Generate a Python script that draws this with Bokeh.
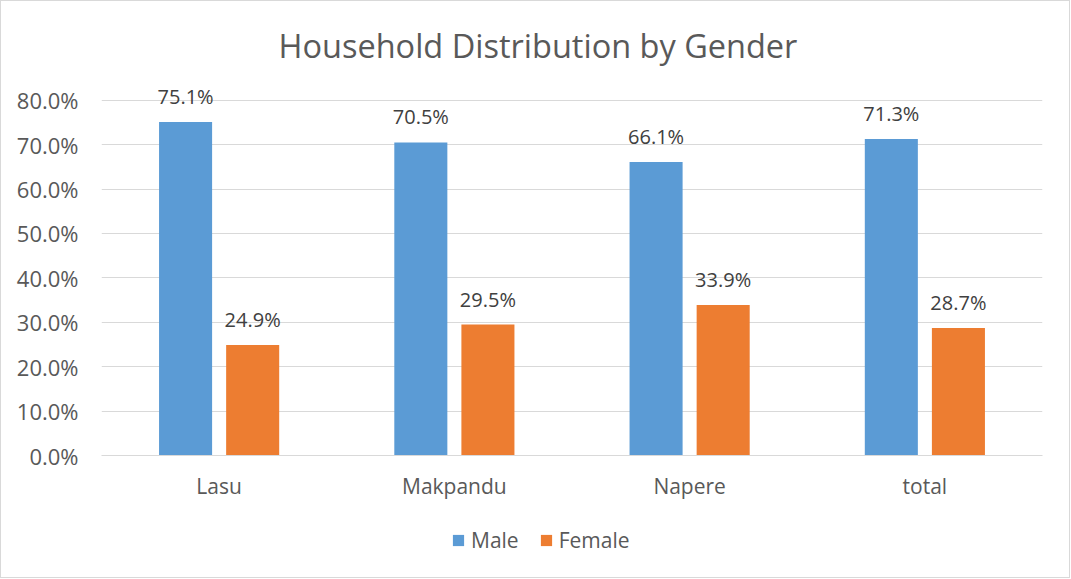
from bokeh.plotting import figure
from bokeh.layouts import column
from bokeh.models import ColumnDataSource, FixedTicker, LabelSet, Legend, LegendItem, FactorRange, Range1d
from bokeh.core.properties import value
from bokeh.transform import dodge
from bokeh.embed import file_html
from bokeh.resources import INLINE

categories = ["Lasu", "Makpandu", "Napere", "total"]
male = [75.1, 70.5, 66.1, 71.3]
female = [24.9, 29.5, 33.9, 28.7]
y_ticks = [0, 10, 20, 30, 40, 50, 60, 70, 80]

FONT = "Open Sans"
TXT = "#595959"
MALE_C = "#5B9BD5"
FEMALE_C = "#ED7D31"

src = ColumnDataSource(dict(
    cat=categories, male=male, female=female,
    male_lbl=[f"{v:.1f}%" for v in male],
    female_lbl=[f"{v:.1f}%" for v in female],
))

p = figure(width=1068, height=509, x_range=FactorRange(*categories, range_padding=0),
           y_range=(0, 84), output_backend="svg", toolbar_location=None,
           min_border_left=100, min_border_right=27, min_border_top=81, min_border_bottom=55)
p.outline_line_color = None
p.border_fill_color = "white"

p.title.text = "Household Distribution by Gender"
p.title.align = "left"
p.title.offset = 177
p.title.text_font = FONT
p.title.text_font_size = "32.5px"
p.title.text_font_style = "normal"
p.title.text_color = TXT
p.title.standoff = 29

w = 0.2255
off = 0.1426
p.vbar(x=dodge("cat", -off, range=p.x_range), top="male", width=w, source=src,
       fill_color=MALE_C, line_color=None)
p.vbar(x=dodge("cat", off, range=p.x_range), top="female", width=w, source=src,
       fill_color=FEMALE_C, line_color=None)

for col, lbl, d in (("male", "male_lbl", -off), ("female", "female_lbl", off)):
    ls = LabelSet(x=dodge("cat", d, range=p.x_range), y=col, text=lbl, source=src,
                  text_align="center", text_baseline="bottom", y_offset=12,
                  text_font=value(FONT), text_font_size=value("20px"), text_color="#404040")
    p.add_layout(ls)

p.yaxis.ticker = FixedTicker(ticks=y_ticks)
p.yaxis.major_label_overrides = {t: f"{t:.1f}%" for t in y_ticks}
p.yaxis.axis_line_color = None
p.yaxis.major_tick_line_color = None
p.yaxis.minor_tick_line_color = None
p.yaxis.major_label_standoff = 17
p.yaxis.major_label_text_font = FONT
p.yaxis.major_label_text_font_size = "22px"
p.yaxis.major_label_text_color = TXT

p.xaxis.axis_line_color = "#d9d9d9"
p.xaxis.major_tick_line_color = None
p.xaxis.minor_tick_line_color = None
p.xaxis.major_label_standoff = 10
p.xaxis.major_label_text_font = FONT
p.xaxis.major_label_text_font_size = "21px"
p.xaxis.major_label_text_color = TXT

p.xgrid.grid_line_color = None
p.ygrid.ticker = FixedTicker(ticks=y_ticks)
p.ygrid.grid_line_color = "#d9d9d9"
p.ygrid.grid_line_width = 1

# legend strip below the chart
lf = figure(width=1068, height=67, x_range=FactorRange(*categories),
            y_range=Range1d(1000, 1001), output_backend="svg", toolbar_location=None,
            min_border=0)
lf.axis.visible = False
lf.grid.visible = False
lf.outline_line_color = None
m = lf.vbar(x="cat", top="male", width=w, source=src, fill_color=MALE_C, line_color=None)
f = lf.vbar(x="cat", top="female", width=w, source=src, fill_color=FEMALE_C, line_color=None)
legend = Legend(items=[LegendItem(label="Male", renderers=[m]),
                       LegendItem(label="Female", renderers=[f])],
                orientation="horizontal", location=(350, 23),
                label_text_font=FONT, label_text_font_size="21px", label_text_color=TXT,
                glyph_width=14, glyph_height=14, label_standoff=6, spacing=20,
                border_line_color=None, background_fill_alpha=0, margin=0, padding=4)
lf.add_layout(legend)

layout = column(p, lf, spacing=0, styles={"border": "1px solid #d9d9d9"})
open("out.html", "w").write(file_html(layout, INLINE))
